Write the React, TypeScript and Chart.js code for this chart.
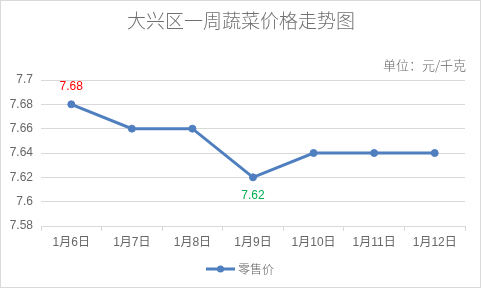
import React, { useEffect, useRef } from "react";
import { Chart, registerables } from "chart.js";

Chart.register(...registerables);

const categories = ["1月6日", "1月7日", "1月8日", "1月9日", "1月10日", "1月11日", "1月12日"];
const retailPrices = [7.68, 7.66, 7.66, 7.62, 7.64, 7.64, 7.64];
const seriesName = "零售价";
const titleText = "大兴区一周蔬菜价格走势图";
const unitText = "单位：元/千克";
const yMin = 7.58;
const yMax = 7.7;
const yStep = 0.02;

const FONT = "'Liberation Sans', 'Noto Sans CJK SC', sans-serif";
const CJK = "'Noto Sans CJK SC', sans-serif";
const GRAY = "#666666";
const LINE = "#4f7fbf";

const decorPlugin = {
  id: "decor",
  afterDraw(chart: any) {
    const ctx = chart.ctx;
    ctx.save();
    // border
    ctx.strokeStyle = "#d9d9d9";
    ctx.lineWidth = 1;
    ctx.strokeRect(0.5, 0.5, 480, 287);
    // title
    ctx.fillStyle = "#707070";
    ctx.textAlign = "center";
    ctx.textBaseline = "middle";
    ctx.font = `300 19px ${CJK}`;
    ctx.fillText(titleText, 241, 21);
    // unit
    ctx.fillStyle = GRAY;
    ctx.font = `300 13px ${CJK}`;
    ctx.textAlign = "right";
    ctx.fillText(unitText, 466, 65);
    // data labels for max/min
    const meta = chart.getDatasetMeta(0);
    const data = chart.data.datasets[0].data as number[];
    const maxV = Math.max(...data);
    const minV = Math.min(...data);
    const iMax = data.indexOf(maxV);
    const iMin = data.indexOf(minV);
    ctx.font = `12px ${FONT}`;
    ctx.textAlign = "center";
    const pMax = meta.data[iMax];
    ctx.fillStyle = "#ff0000";
    ctx.fillText(String(maxV), pMax.x, pMax.y - 18);
    const pMin = meta.data[iMin];
    ctx.fillStyle = "#00b050";
    ctx.fillText(String(minV), pMin.x, pMin.y + 18);
    // legend
    const ly = 269;
    ctx.strokeStyle = LINE;
    ctx.lineWidth = 3;
    ctx.beginPath();
    ctx.moveTo(206, ly);
    ctx.lineTo(235, ly);
    ctx.stroke();
    ctx.fillStyle = LINE;
    ctx.beginPath();
    ctx.arc(220.5, ly, 3.5, 0, Math.PI * 2);
    ctx.fill();
    ctx.fillStyle = GRAY;
    ctx.textAlign = "left";
    ctx.font = `300 12px ${CJK}`;
    ctx.fillText(String(chart.data.datasets[0].label), 238, ly);
    ctx.restore();
  },
};

export default function App() {
  const ref = useRef<HTMLCanvasElement>(null);
  useEffect(() => {
    document.body.style.margin = "0";
    const chart = new Chart(ref.current!, {
      type: "line",
      data: {
        labels: categories,
        datasets: [
          {
            label: seriesName,
            data: retailPrices,
            borderColor: LINE,
            backgroundColor: LINE,
            borderWidth: 3,
            pointRadius: 3.5,
            pointBackgroundColor: LINE,
            pointBorderColor: LINE,
            pointBorderWidth: 1,
            tension: 0,
          },
        ],
      },
      options: {
        animation: false,
        responsive: false,
        layout: { padding: { left: 0, right: 17, top: 80, bottom: 0 } },
        plugins: {
          legend: { display: false },
          title: { display: false },
          tooltip: { enabled: false },
        },
        scales: {
          x: {
            type: "category",
            offset: true,
            afterFit: (s: any) => {
              s.height = 64;
            },
            grid: {
              offset: true,
              drawOnChartArea: false,
              drawTicks: true,
              tickLength: 5,
              color: "#d9d9d9",
            },
            border: { display: true, color: "#d9d9d9", width: 1 },
            ticks: {
              color: GRAY,
              font: { family: FONT, size: 12 },
              padding: 4,
              maxRotation: 0,
              autoSkip: false,
            },
          },
          y: {
            min: yMin,
            max: yMax,
            afterFit: (s: any) => {
              s.width = 41;
            },
            afterBuildTicks: (s: any) => {
              const t = [];
              for (let i = 0; i <= Math.round((yMax - yMin) / yStep); i++) {
                t.push({ value: Number((yMin + i * yStep).toFixed(2)) });
              }
              s.ticks = t;
            },
            grid: { color: "#d9d9d9", drawTicks: false },
            border: { display: false },
            ticks: {
              color: GRAY,
              font: { family: FONT, size: 12 },
              padding: 8,
              callback: (v: any) => String(Number(Number(v).toFixed(2))),
            },
          },
        },
      },
      plugins: [decorPlugin],
    });
    return () => chart.destroy();
  }, []);
  return (
    <div style={{ position: "absolute", left: 0, top: 0, width: 482, height: 290, background: "#fff" }}>
      <canvas ref={ref} width={482} height={290} style={{ width: 482, height: 290 }} />
    </div>
  );
}
